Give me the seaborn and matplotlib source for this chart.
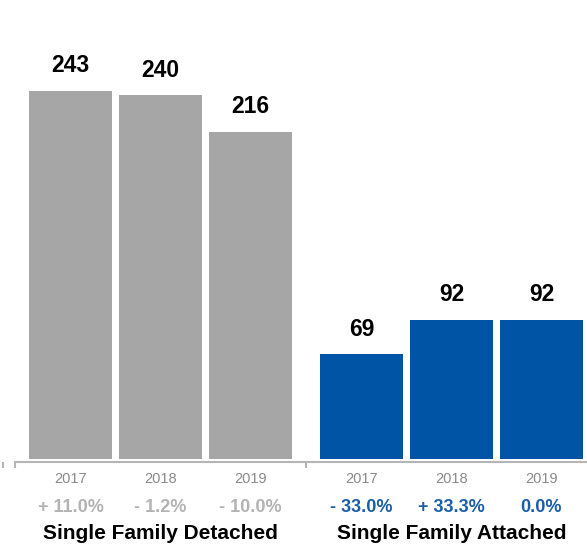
import matplotlib
matplotlib.use("Agg")
import matplotlib.pyplot as plt
import matplotlib.transforms as mtransforms
import seaborn as sns
import pandas as pd

groups = ["Single Family Detached", "Single Family Attached"]
years = ["2017", "2018", "2019"]
detached = [243, 240, 216]
attached = [69, 92, 92]
detached_pct = ["+ 11.0%", "- 1.2%", "- 10.0%"]
attached_pct = ["- 33.0%", "+ 33.3%", "0.0%"]

gray = "#a6a6a6"
blue = "#0054a6"
pct_gray = "#b3b3b3"
pct_blue = "#1a5ea8"

sns.set_theme(style="white")
plt.rcParams["font.family"] = ["Liberation Sans", "DejaVu Sans"]

group_offset = 3.233
pos = [0, 1, 2] + [group_offset + i for i in range(3)]
df = pd.DataFrame({
    "pos": pos,
    "value": detached + attached,
    "group": [groups[0]] * 3 + [groups[1]] * 3,
    "year": years * 2,
    "pct": detached_pct + attached_pct,
})

fig = plt.figure(figsize=(5.87, 5.47), dpi=100)
ax = fig.add_axes([0, (547 - 462) / 547, 1, 462 / 547])
sns.barplot(data=df, x="pos", y="value", hue="group",
            palette={groups[0]: gray, groups[1]: blue},
            native_scale=True, dodge=False, width=0.92, saturation=1,
            linewidth=0, legend=False, ax=ax)

ax.set_xlim(-0.783, 5.74)
ax.set_ylim(-2, 303)
for s in ["top", "right", "left"]:
    ax.spines[s].set_visible(False)
ax.spines["bottom"].set_color("#b5b5b5")
ax.spines["bottom"].set_linewidth(1.5)
ax.spines["bottom"].set_bounds(-0.617, 5.74)
ax.set_xticks([-0.75, -0.617, (2 + group_offset) / 2])
ax.set_xticklabels([])
ax.tick_params(axis="x", length=4, width=1.5, color="#b5b5b5", bottom=True)
ax.set_yticks([])
ax.set_xlabel("")
ax.set_ylabel("")

for _, r in df.iterrows():
    ax.annotate(str(r["value"]), (r["pos"], r["value"]), xytext=(0, 13.3),
                textcoords="offset points", ha="center", va="baseline",
                fontsize=16.5, fontweight="bold", color="black")

trans = mtransforms.blended_transform_factory(ax.transData, fig.transFigure)
H = 547
for _, r in df.iterrows():
    ax.text(r["pos"], 1 - 483 / H, r["year"], transform=trans, ha="center",
            va="baseline", fontsize=10.5, color="#8a8a8a")
    c = pct_gray if r["group"] == groups[0] else pct_blue
    ax.text(r["pos"], 1 - 512 / H, r["pct"], transform=trans, ha="center",
            va="baseline", fontsize=13, fontweight="bold", color=c)

ax.text(1, 1 - 539 / H, groups[0], transform=trans, ha="center",
        va="baseline", fontsize=15, fontweight="bold", color="black")
ax.text(group_offset + 1, 1 - 539 / H, groups[1], transform=trans, ha="center",
        va="baseline", fontsize=15, fontweight="bold", color="black")

fig.savefig("out.png", dpi=100)
